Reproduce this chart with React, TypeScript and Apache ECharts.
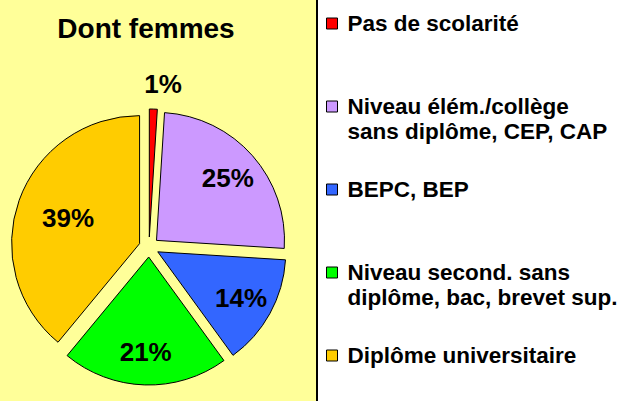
import React, { useEffect, useRef } from "react";
import * as echarts from "echarts";

const TITLE = "Dont femmes";
const categories = [
  "Pas de scolarité",
  "Niveau élém./collège\nsans diplôme, CEP, CAP",
  "BEPC, BEP",
  "Niveau second. sans\ndiplôme, bac, brevet sup.",
  "Diplôme universitaire",
];
const shares = [1, 25, 14, 21, 39];
const colors = ["#FF0000", "#CC99FF", "#3366FF", "#00FF00", "#FFCC00"];

const FONT = '"Liberation Sans", Arial, Helvetica, sans-serif';
const CX = 149;
const CY = 247;
const R = 128;

const maxShare = Math.max(...shares);
const ringOf = (v: number) => (v < 5 ? "outer" : v === maxShare ? "inner" : "mid");

const labelHelper = (ring: string, radius: number[], extra: any = {}) => ({
  type: "pie",
  center: [CX, CY],
  radius,
  startAngle: 90,
  clockwise: true,
  silent: true,
  selectedMode: false,
  legendHoverLink: false,
  avoidLabelOverlap: false,
  itemStyle: { color: "rgba(0,0,0,0)", borderWidth: 0 },
  label: {
    show: true,
    position: "inside",
    color: "#000",
    fontFamily: FONT,
    fontWeight: "bold",
    fontSize: 26,
    formatter: (p: any) => `${p.value}%`,
  },
  labelLine: { show: false },
  emphasis: { disabled: true },
  data: categories.map((name, i) => ({
    name,
    value: shares[i],
    label: { show: ringOf(shares[i]) === ring },
  })),
  ...extra,
});

export default function App() {
  const ref = useRef<HTMLDivElement>(null);
  useEffect(() => {
    if (!ref.current) return;
    const chart = echarts.init(ref.current, undefined, { renderer: "svg" });
    chart.setOption({
      animation: false,
      backgroundColor: "#ffffff",
      graphic: [
        {
          type: "rect",
          shape: { x: 0, y: 0, width: 316, height: 401 },
          style: { fill: "#FFFF99" },
          z: -10,
        },
        {
          type: "rect",
          shape: { x: 316, y: 0, width: 2, height: 401 },
          style: { fill: "#000000" },
          z: -10,
        },
      ],
      title: {
        text: TITLE,
        left: 146,
        top: 14,
        padding: 0,
        textAlign: "center",
        textStyle: { fontFamily: FONT, fontWeight: "bold", fontSize: 28, color: "#000" },
      },
      legend: {
        orient: "vertical",
        left: 326,
        top: 11,
        padding: 0,
        itemGap: 33,
        itemWidth: 11,
        itemHeight: 11,
        icon: "rect",
        selectedMode: false,
        itemStyle: { borderColor: "#000", borderWidth: 1 },
        data: categories,
        formatter: (name: string) => (name.includes("\n") ? "\n" + name : name),
        textStyle: {
          fontFamily: FONT,
          fontWeight: "bold",
          fontSize: 22.5,
          lineHeight: 25,
          color: "#000",
          padding: [0, 0, 0, 5],
        },
      },
      series: [
        {
          type: "pie",
          center: [CX, CY],
          radius: R,
          startAngle: 90,
          clockwise: true,
          selectedMode: "multiple",
          selectedOffset: 10,
          avoidLabelOverlap: false,
          itemStyle: { borderColor: "#000", borderWidth: 1 },
          select: { itemStyle: { borderColor: "#000", borderWidth: 1 } },
          emphasis: { disabled: true },
          label: { show: false },
          labelLine: { show: false },
          data: categories.map((name, i) => ({
            name,
            value: shares[i],
            selected: true,
            itemStyle: { color: colors[i] },
          })),
        },
        labelHelper("mid", [80, 124]),
        labelHelper("inner", [66, 100]),
        labelHelper("outer", [150, 170], { labelLayout: { dx: 9 } }),
      ],
    });
    return () => chart.dispose();
  }, []);
  return (
    <div
      ref={ref}
      style={{ position: "absolute", left: 0, top: 0, width: 626, height: 401 }}
    />
  );
}
